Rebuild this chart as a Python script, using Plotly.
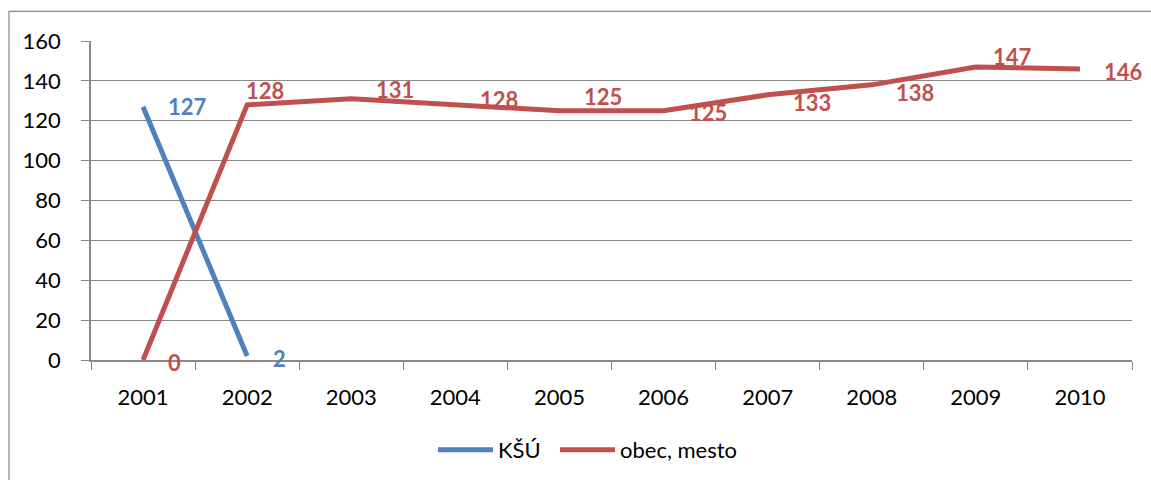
import plotly.graph_objects as go

years = ['2001', '2002', '2003', '2004', '2005', '2006', '2007', '2008', '2009', '2010']
ksu_years = ['2001', '2002']
ksu_values = [127, 2]
obec_values = [0, 128, 131, 128, 125, 125, 133, 138, 147, 146]

blue = '#4F81BD'
red = '#C0504D'
grey = '#898989'
font = 'Lato, "Open Sans", sans-serif'

# pixel offsets of the Excel data labels (left edge of label relative to point)
ksu_label_shift = [(23, 0), (24, -2)]
obec_label_shift = [(23, -2), (-3, 14), (23, 9), (23, 5), (23, 14), (23, -2),
                    (23, -8), (22, -8), (15, 10), (22, -3)]

fig = go.Figure()
fig.add_trace(go.Scatter(x=ksu_years, y=ksu_values, name='KŠÚ', mode='lines',
                         line=dict(color=blue, width=5), legend='legend'))
fig.add_trace(go.Scatter(x=years, y=obec_values, name='obec, mesto', mode='lines',
                         line=dict(color=red, width=5), legend='legend2'))

# data labels (x given as category index so the category axis places them)
for xs, ys, shifts, col in [(ksu_years, ksu_values, ksu_label_shift, blue),
                            (years, obec_values, obec_label_shift, red)]:
    for x, y, (dx, dy) in zip(xs, ys, shifts):
        fig.add_annotation(x=years.index(x), y=y, text='<b>%d</b>' % y, showarrow=False,
                           xref='x', yref='y',
                           xanchor='left', yanchor='middle', xshift=dx, yshift=dy,
                           font=dict(family=font, size=22, color=col))

# outer chart frame
fig.add_shape(type='rect', xref='paper', yref='paper',
              x0=-0.0788, x1=1.1, y0=-0.6, y1=1.0926,
              line=dict(color=grey, width=1.2), layer='below')

leg = dict(orientation='h', xanchor='left', yref='container', y=0.0625, yanchor='middle',
           font=dict(family=font, size=22, color='black'), itemwidth=55)

fig.update_layout(
    width=1151, height=480,
    margin=dict(l=91, r=19, t=41, b=120),
    paper_bgcolor='white', plot_bgcolor='white',
    font=dict(family=font, size=22, color='black'),
    showlegend=True,
    legend=dict(leg, x=0.3285),
    legend2=dict(leg, x=0.4457),
    xaxis=dict(type='category', categoryorder='array', categoryarray=years,
               range=[-0.5, 9.5], tickson='boundaries', ticks='outside', ticklen=8,
               tickcolor=grey, showline=True, linecolor=grey, linewidth=1.5,
               showgrid=False, zeroline=False, ticklabelstandoff=17),
    yaxis=dict(range=[0, 160], dtick=20, ticks='outside', ticklen=8, tickcolor=grey,
               showline=True, linecolor=grey, linewidth=1.5, showgrid=True,
               gridcolor=grey, gridwidth=1, zeroline=False, ticklabelstandoff=16),
)

fig.write_html('out.html', config={'displayModeBar': False},
               post_script="document.body.style.margin='0px';")
